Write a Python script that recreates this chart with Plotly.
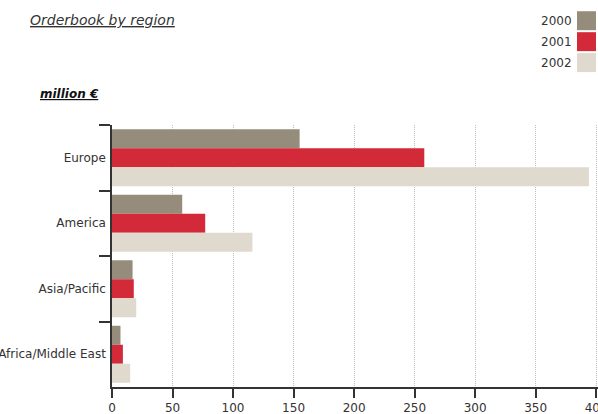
import plotly.graph_objects as go

regions = ["Europe", "America", "Asia/Pacific", "Africa/Middle East"]
years = ["2000", "2001", "2002"]
v2000 = [155, 58, 17, 7]
v2001 = [258, 77, 18, 9]
v2002 = [394, 116, 20, 15]
colors = ["#958c7b", "#d22a39", "#e0d9cd"]
xticks = [0, 50, 100, 150, 200, 250, 300, 350, 400]

W, H = 598, 414
ML, MR, MT, MB = 112.3, 0, 125, 26.5
PW, PH = W - ML - MR, H - MT - MB

def px(x):
    return (x - ML) / PW

def py(y):
    return (H - MB - y) / PH

FONT = "DejaVu Sans"
fig = go.Figure()
for name, vals, col in zip(years, [v2000, v2001, v2002], colors):
    fig.add_trace(go.Bar(y=regions, x=vals, name=name, orientation="h",
                         marker=dict(color=col, line=dict(width=0)),
                         showlegend=False))

fig.update_layout(
    width=W, height=H, margin=dict(l=ML, r=MR, t=MT, b=MB, autoexpand=False),
    paper_bgcolor="white", plot_bgcolor="white",
    barmode="group", bargap=0.13, bargroupgap=0,
    font=dict(family=FONT, size=12, color="#333333"),
    xaxis=dict(range=[0, 401.5], tickvals=xticks, showgrid=True, automargin=False,
               gridcolor="#bdbdbd", griddash="1px,1px", gridwidth=1,
               showline=True, linecolor="#333333", linewidth=1.5,
               ticks="outside", ticklen=9, tickcolor="#333333", tickwidth=1.5,
               ticklabeloverflow="allow",
               zeroline=False, tickfont=dict(size=12, color="#333333")),
    yaxis=dict(categoryorder="array", categoryarray=regions, autorange="reversed",
               automargin=False,
               showline=True, linecolor="#333333", linewidth=1.5,
               ticks="outside", tickson="boundaries", ticklen=11,
               tickcolor="#333333", tickwidth=1.5, showgrid=False,
               ticklabelstandoff=2, tickfont=dict(size=12, color="#333333")),
)

fig.add_annotation(text="<i><u>Orderbook by region</u></i>", xref="paper", yref="paper",
                   x=px(28), y=py(20), xanchor="left", yanchor="middle", showarrow=False,
                   font=dict(family=FONT, size=14, color="#333333"))
fig.add_annotation(text="<b><i><u>million €</u></i></b>", xref="paper", yref="paper",
                   x=px(38), y=py(94), xanchor="left", yanchor="middle", showarrow=False,
                   font=dict(family=FONT, size=12, color="#111111"))

for i, (name, col) in enumerate(zip(years, colors)):
    top = 11 + i * 21
    fig.add_shape(type="rect", xref="paper", yref="paper",
                  x0=px(577), x1=px(596), y0=py(top), y1=py(top + 19),
                  fillcolor=col, line=dict(width=0))
    fig.add_annotation(text=name, xref="paper", yref="paper",
                       x=px(574), y=py(top + 9.5), xanchor="right", yanchor="middle",
                       showarrow=False, font=dict(family=FONT, size=12, color="#333333"))

fig.write_html("out.html")
